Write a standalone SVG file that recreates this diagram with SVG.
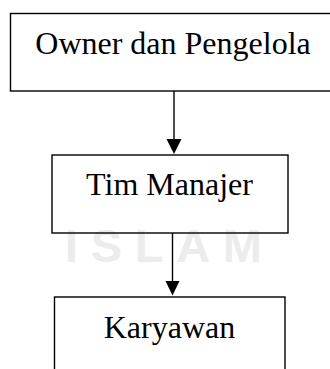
<svg xmlns="http://www.w3.org/2000/svg" width="330" height="369" viewBox="0 0 330 369">
  <style>
    .box { fill: none; stroke: #000; stroke-width: 1.4; }
    .lbl { font-family: "Liberation Serif", "Times New Roman", serif; font-size: 32px; fill: #000; text-anchor: middle; }
    .wm { font-family: "Liberation Sans", Arial, sans-serif; font-weight: bold; font-size: 47px; fill: #ececec; }
    .conn { stroke: #000; stroke-width: 1.4; fill: none; }
  </style>
  <rect x="0" y="0" width="330" height="369" fill="#fff"/>
  <g id="watermark">
    <text class="wm" x="65" y="262" textLength="197" lengthAdjust="spacing">ISLAM</text>
  </g>
  <g id="connectors">
    <line class="conn" x1="174" y1="91" x2="174" y2="140"/>
    <polygon points="166.5,139 181.5,139 174,154" fill="#000"/>
    <line class="conn" x1="172.5" y1="233" x2="172.5" y2="282"/>
    <polygon points="165.5,281 179.5,281 172.5,295.5" fill="#000"/>
  </g>
  <g id="owner">
    <rect class="box" x="10.5" y="13.5" width="325" height="77.5"/>
    <text class="lbl" x="173" y="54">Owner dan Pengelola</text>
  </g>
  <g id="tim-manajer">
    <rect class="box" x="52" y="155" width="236" height="78"/>
    <text class="lbl" x="169.5" y="195">Tim Manajer</text>
  </g>
  <g id="karyawan">
    <rect class="box" x="54.5" y="297" width="230.5" height="100"/>
    <text class="lbl" x="169.5" y="338">Karyawan</text>
  </g>
</svg>
